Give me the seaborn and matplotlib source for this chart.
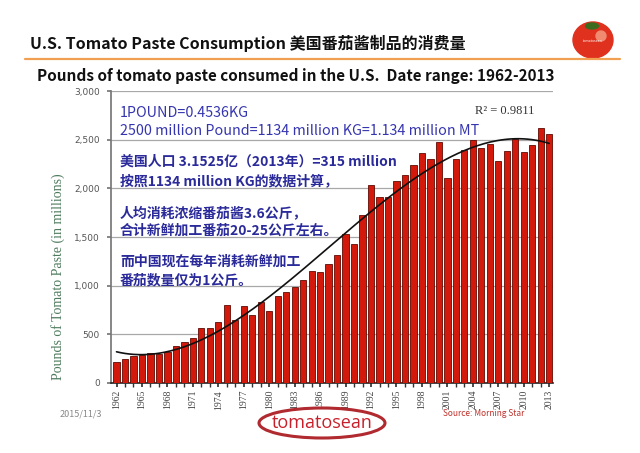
import numpy as np
import pandas as pd
import matplotlib
matplotlib.use("Agg")
import matplotlib.pyplot as plt
from matplotlib.patches import Ellipse
import seaborn as sns

# pounds of tomato paste consumed, millions
years = list(range(1962, 2014))
pounds = [220, 242, 275, 287, 308, 303, 322, 378, 424, 467,
          563, 565, 630, 802, 652, 790, 700, 830, 736, 890,
          931, 989, 1060, 1150, 1138, 1226, 1311, 1530, 1426, 1728,
          2031, 1912, 1915, 2072, 2133, 2238, 2364, 2306, 2475, 2106,
          2298, 2390, 2500, 2410, 2455, 2282, 2388, 2510, 2378, 2442,
          2618, 2563]
ytick_vals = [0, 500, 1000, 1500, 2000, 2500, 3000]
ytick_labels = ["0", "500", "1,000", "1,500", "2,000", "2,500", "3,000"]
xtick_years = list(range(1962, 2014, 3))

notes_en = ["1POUND=0.4536KG",
            "2500 million Pound=1134 million KG=1.134 million MT"]
notes_cn = ["美国人口 3.1525亿（2013年）=315 million",
            "按照1134 million KG的数据计算，",
            "人均消耗浓缩番茄酱3.6公斤，",
            "合计新鲜加工番茄20-25公斤左右。",
            "而中国现在每年消耗新鲜加工",
            "番茄数量仅为1公斤。"]

df = pd.DataFrame({"year": [str(y) for y in years], "pounds": pounds})

sns.set_theme(style="white")
cjk = ["Noto Sans CJK SC", "DejaVu Sans"]
serif = ["Liberation Serif", "DejaVu Serif"]
plt.rcParams["font.family"] = cjk

W, H = 640, 453
fig = plt.figure(figsize=(6.4, 4.53), dpi=100)
fig.patch.set_facecolor("white")


def fx(px):
    return px / W


def fy(py):
    return 1 - py / H


ax = fig.add_axes([fx(111), fy(383), fx(553) - fx(111), fy(91) - fy(383)])
sns.barplot(data=df, x="year", y="pounds", color="#d2190c", width=0.74,
            edgecolor="#5e0a02", linewidth=0.6, saturation=1, ax=ax, zorder=3)

# 3rd order trend line like the spreadsheet trendline
idx = np.arange(len(pounds))
coef = np.polyfit(idx, pounds, 3)
xs = np.linspace(0, len(pounds) - 1, 200)
ax.plot(xs, np.polyval(coef, xs), color="#111111", lw=1.2, zorder=4)

ax.set_xlim(-0.65, len(pounds) - 0.55)
ax.set_ylim(0, 3000)
ax.set_yticks(ytick_vals)
ax.set_yticklabels(ytick_labels, family=["DejaVu Sans"], fontsize=6.5, color="#555555")
ax.set_xticks([years.index(y) for y in xtick_years])
ax.set_xticklabels([str(y) for y in xtick_years], rotation=90,
                   family=serif, fontsize=7, color="#444444")
ax.set_xticks(idx, minor=True)
ax.tick_params(axis="x", which="both", direction="out", length=3,
               color="#333333", bottom=True, pad=2)
ax.tick_params(axis="y", direction="out", length=3, color="#777777",
               left=True, pad=5)
ax.yaxis.grid(True, color="#a8a8a8", lw=0.9, zorder=0)
ax.set_axisbelow(True)
for s in ["top", "right"]:
    ax.spines[s].set_visible(False)
ax.spines["left"].set_color("#777777")
ax.spines["bottom"].set_color("#222222")
ax.spines["bottom"].set_linewidth(1.2)
ax.set_xlabel("")
ax.set_ylabel("")

fig.text(fx(58), fy(277), "Pounds of Tomato Paste (in millions)", rotation=90,
         ha="center", va="center", family=serif, fontsize=10,
         color="#4d7a5c")

fig.text(fx(475), fy(111), "R² = 0.9811", family=serif, fontsize=9,
         color="#333333", va="center")

# header
fig.text(fx(30), fy(43), "U.S. Tomato Paste Consumption 美国番茄酱制品的消费量",
         fontsize=11.5, fontweight="bold", color="#111111", va="center")
fig.add_artist(plt.Line2D([fx(25), fx(620)], [fy(59), fy(59)],
                          color="#f0a050", lw=1.6))
fig.text(fx(37), fy(76), "Pounds of tomato paste consumed in the U.S.  Date range: 1962-2013",
         fontsize=11, fontweight="bold", color="#111111", va="center")

# blue notes
en_y = [113, 131]
for t, py in zip(notes_en, en_y):
    fig.text(fx(120), fy(py), t, fontsize=10.3, color="#3535b0", va="center")
cn_y = [162, 181, 213, 231, 262, 280]
for t, py in zip(notes_cn, cn_y):
    fig.text(fx(120), fy(py), t, fontsize=10, fontweight="bold",
             color="#2a2a9a", va="center")

# footer
fig.text(fx(60), fy(414), "2015/11/3", fontsize=6.5, color="#888888", va="center")
fig.text(fx(443), fy(413), "Source: Morning Star", fontsize=6, color="#c0302a",
         va="center")
fig.add_artist(Ellipse((fx(322), fy(423)), fx(126), 30 / H, fill=False,
                       edgecolor="#b02a30", lw=2.2, transform=fig.transFigure))
fig.text(fx(322), fy(423), "tomatosean", fontsize=13, color="#c8202a",
         ha="center", va="center", family=["Open Sans", "DejaVu Sans"])

# small tomato logo, top right
fig.add_artist(Ellipse((fx(593), fy(40)), 40 / W, 36 / H, color="#e0301e",
                       transform=fig.transFigure))
fig.add_artist(Ellipse((fx(601), fy(36)), 10 / W, 10 / H, color="#f08a70",
                       transform=fig.transFigure))
fig.add_artist(Ellipse((fx(592), fy(26)), 13 / W, 6 / H, color="#3d6b1e",
                       transform=fig.transFigure))
fig.text(fx(583), fy(41), "tomatosean", fontsize=2.5, color="white", va="center")

fig.savefig("out.png", dpi=100)
